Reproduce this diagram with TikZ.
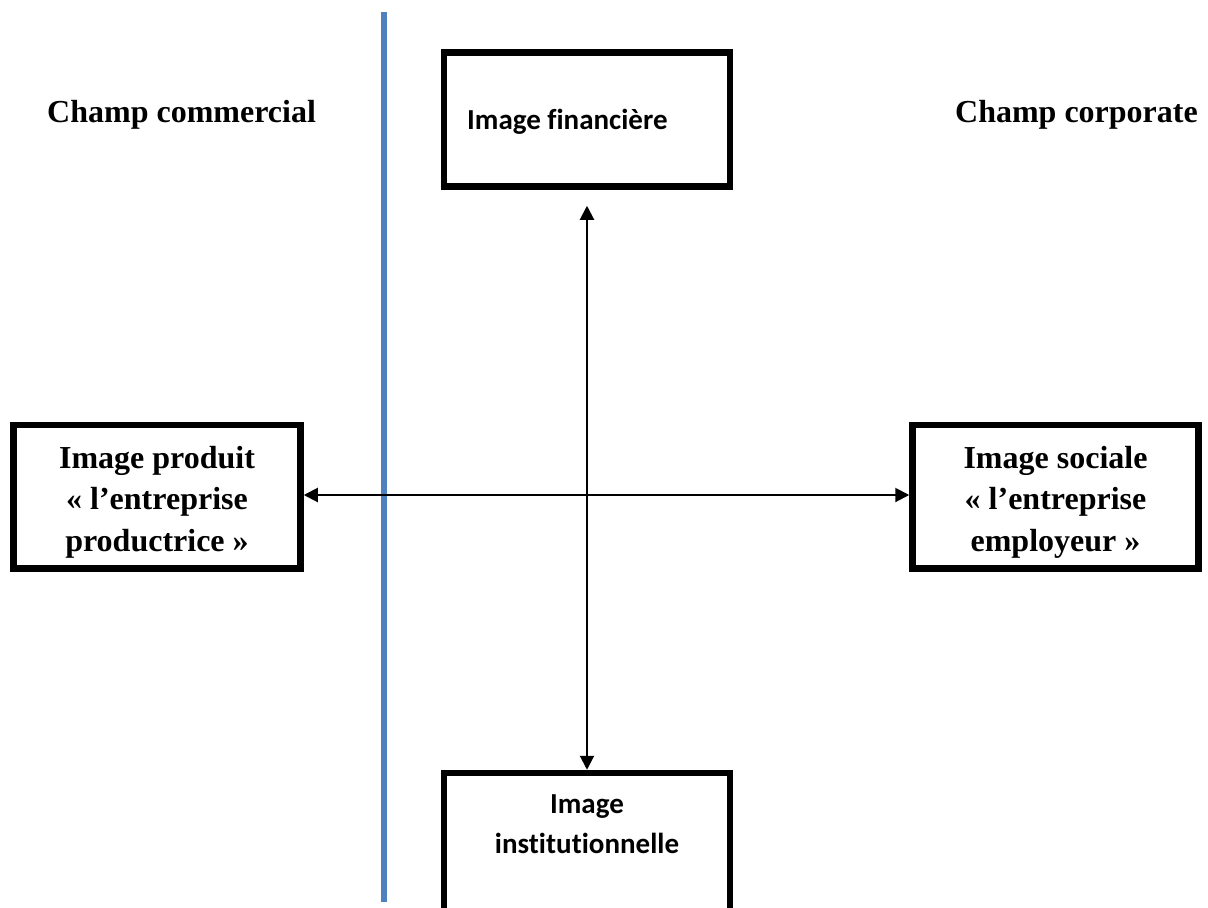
\documentclass[tikz,border=0pt]{standalone}
\usepackage{fontspec}
\setmainfont{Liberation Serif}
\newfontfamily\calibrifont[Ligatures=NoCommon]{Carlito}
\usetikzlibrary{arrows.meta}

\definecolor{dividerblue}{HTML}{4F81BD}

\tikzset{
  imgbox/.style={draw=black, line width=6.5pt, rectangle, inner sep=0pt},
  serifhead/.style={inner sep=0pt, font=\fontsize{32}{42}\selectfont\bfseries},
  seriftxt/.style={inner sep=0pt, anchor=base, font=\fontsize{32}{41.5}\selectfont\bfseries},
  sanstxt/.style={inner sep=0pt, font=\calibrifont\fontsize{29}{40}\selectfont\bfseries},
  biarrow/.style={line width=2pt, {Triangle[length=14pt,width=14pt]}-{Triangle[length=14pt,width=14pt]}}
}

\begin{document}
\begin{tikzpicture}[x=1pt, y=-1pt]
  \useasboundingbox (0,0) rectangle (1208,908);
  \clip (0,0) rectangle (1208,908);

  % vertical divider between the two fields
  \draw[dividerblue, line width=6.5pt] (384,12) -- (384,902);

  % field headings
  \node[serifhead, anchor=base west] (commercial) at (47,122) {Champ commercial};
  \node[serifhead, anchor=base east] (corporate) at (1198,122) {Champ corporate};

  % the four images
  \node[imgbox, minimum width=286pt, minimum height=134pt] (fin) at (587,119.5) {};
  \node[imgbox, minimum width=287pt, minimum height=143.5pt] (prod) at (157,496.75) {};
  \node[imgbox, minimum width=286pt, minimum height=143.5pt] (soc) at (1055.5,496.75) {};
  \node[imgbox, minimum width=286pt, minimum height=200pt] (inst) at (587,873) {};

  % box texts
  \node[sanstxt, anchor=base west] (fintxt) at (467,129) {Image financière};
  \node[seriftxt, yshift=28.5pt] (prodtxt) at (prod.center)
    {\begin{tabular}[t]{@{}c@{}}Image produit\\« l’entreprise\\productrice »\end{tabular}};
  \node[seriftxt, yshift=28.5pt] (soctxt) at (soc.center)
    {\begin{tabular}[t]{@{}c@{}}Image sociale\\« l’entreprise\\employeur »\end{tabular}};
  \node[sanstxt, anchor=base] (insttxt) at (587,813)
    {\begin{tabular}[t]{@{}c@{}}Image\\institutionnelle\end{tabular}};

  % axes linking the images
  \draw[biarrow] ([yshift=-16pt]fin.south) -- (inst.north);
  \draw[biarrow] ([yshift=1.75pt]prod.east) -- ([yshift=1.75pt]soc.west);
\end{tikzpicture}
\end{document}
